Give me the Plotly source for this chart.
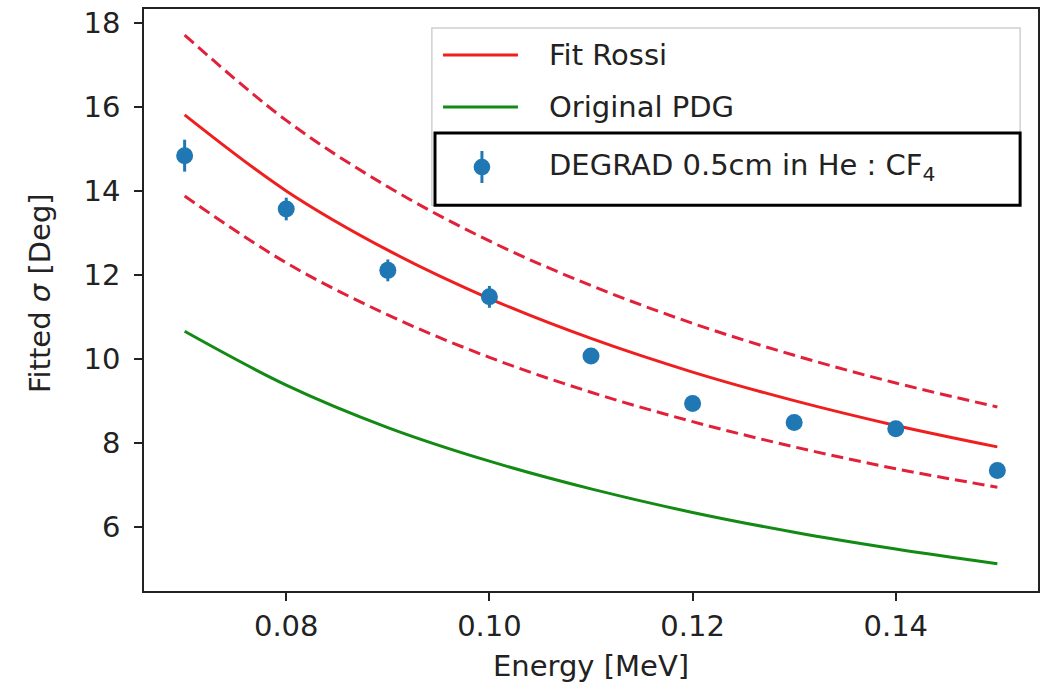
import plotly.graph_objects as go

# ---- data ----
energy = [0.07, 0.08, 0.09, 0.10, 0.11, 0.12, 0.13, 0.14, 0.15]
degrad_sigma = [14.84, 13.57, 12.11, 11.48, 10.07, 8.94, 8.49, 8.34, 7.35]
degrad_err = [0.38, 0.27, 0.26, 0.26, 0.15, 0.15, 0.12, 0.12, 0.12]

rossi_fit = [15.81, 14.00, 12.59, 11.44, 10.49, 9.69, 9.01, 8.42, 7.91]
rossi_upper = [17.71, 15.68, 14.10, 12.81, 11.75, 10.85, 10.09, 9.43, 8.86]
rossi_lower = [13.88, 12.29, 11.05, 10.04, 9.21, 8.51, 7.91, 7.39, 6.95]
pdg_original = [10.66, 9.38, 8.37, 7.57, 6.91, 6.35, 5.88, 5.48, 5.13]

x_ticks = [0.08, 0.10, 0.12, 0.14]
y_ticks = [6, 8, 10, 12, 14, 16, 18]

legend_labels = ["Fit Rossi", "Original PDG", "DEGRAD 0.5cm in He : CF<sub>4</sub>"]
x_title = "Energy [MeV]"
y_title = "Fitted <i>σ</i> [Deg]"

RED = "#f01f1f"
RED_D = "#e2203a"
GREEN = "#138a13"
BLUE = "#1f77b4"
FONT = "DejaVu Sans"
TXT = "#222222"

fig = go.Figure()

fig.add_trace(go.Scatter(x=energy, y=rossi_upper, mode="lines", line_shape="spline",
                         line=dict(color=RED_D, width=3, dash="12px,6px"),
                         showlegend=False, hoverinfo="skip"))
fig.add_trace(go.Scatter(x=energy, y=rossi_lower, mode="lines", line_shape="spline",
                         line=dict(color=RED_D, width=3, dash="12px,6px"),
                         showlegend=False, hoverinfo="skip"))
fig.add_trace(go.Scatter(x=energy, y=rossi_fit, mode="lines", line_shape="spline",
                         line=dict(color=RED, width=3), name=legend_labels[0],
                         showlegend=False))
fig.add_trace(go.Scatter(x=energy, y=pdg_original, mode="lines", line_shape="spline",
                         line=dict(color=GREEN, width=3), name=legend_labels[1],
                         showlegend=False))
fig.add_trace(go.Scatter(x=energy, y=degrad_sigma, mode="markers",
                         marker=dict(color=BLUE, size=17),
                         error_y=dict(type="data", array=degrad_err, color=BLUE,
                                      thickness=3, width=0),
                         name=legend_labels[2], showlegend=False))

axis_common = dict(showgrid=False, zeroline=False, showline=True, mirror=True,
                   linecolor="#222222", linewidth=1.6, ticks="outside", ticklen=8,
                   tickwidth=1.5, tickcolor="#222222", automargin=False,
                   tickfont=dict(family=FONT, size=29, color=TXT))

fig.update_xaxes(range=[0.066, 0.154], tickvals=x_ticks, tickformat=".2f",
                 ticklabelstandoff=0,
                 title=dict(text=x_title, font=dict(family=FONT, size=29, color=TXT),
                            standoff=14),
                 **axis_common)
fig.update_yaxes(range=[4.48, 18.33], tickvals=y_ticks, ticklabelstandoff=8,
                 **axis_common)

# ---- manual legend (paper coordinates) ----
shapes = [
    dict(type="rect", xref="paper", yref="paper", x0=0.322, x1=0.980, y0=0.663, y1=0.9674,
         line=dict(color="#d0d0d0", width=1.5), fillcolor="rgba(255,255,255,0.85)"),
    dict(type="line", xref="paper", yref="paper", x0=0.3345, x1=0.4183, y0=0.921, y1=0.921,
         line=dict(color=RED, width=3)),
    dict(type="line", xref="paper", yref="paper", x0=0.3345, x1=0.4183, y0=0.8316, y1=0.8316,
         line=dict(color=GREEN, width=3)),
    dict(type="line", xref="paper", yref="paper", x0=0.378, x1=0.378, y0=0.701, y1=0.756,
         line=dict(color=BLUE, width=3)),
    dict(type="circle", xref="paper", yref="paper", x0=0.378 - 0.0093, x1=0.378 + 0.0093,
         y0=0.7285 - 0.0143, y1=0.7285 + 0.0143, line=dict(color=BLUE, width=0),
         fillcolor=BLUE),
    dict(type="rect", xref="paper", yref="paper", x0=0.3255, x1=0.980, y0=0.663, y1=0.787,
         line=dict(color="black", width=3), fillcolor="rgba(0,0,0,0)"),
]
annotations = [
    dict(xref="paper", yref="paper", x=0.4508, y=yy, xanchor="left", yanchor="middle",
         text=t, showarrow=False, font=dict(family=FONT, size=29, color=TXT))
    for t, yy in zip(legend_labels, [0.921, 0.8316, 0.7285])
]
annotations.append(dict(xref="paper", yref="paper", x=-0.1163, y=0.512,
                        xanchor="center", yanchor="middle", textangle=-90,
                        text=y_title, showarrow=False,
                        font=dict(family=FONT, size=29, color=TXT)))

fig.update_layout(
    width=1049, height=691,
    margin=dict(l=144, r=11, t=9, b=100),
    paper_bgcolor="white", plot_bgcolor="white",
    font=dict(family=FONT, color=TXT),
    showlegend=False,
    shapes=shapes,
    annotations=annotations,
)

fig.write_html("out.html", config={"displayModeBar": False},
               post_script="document.body.style.margin='0';document.body.style.overflow='hidden';")
